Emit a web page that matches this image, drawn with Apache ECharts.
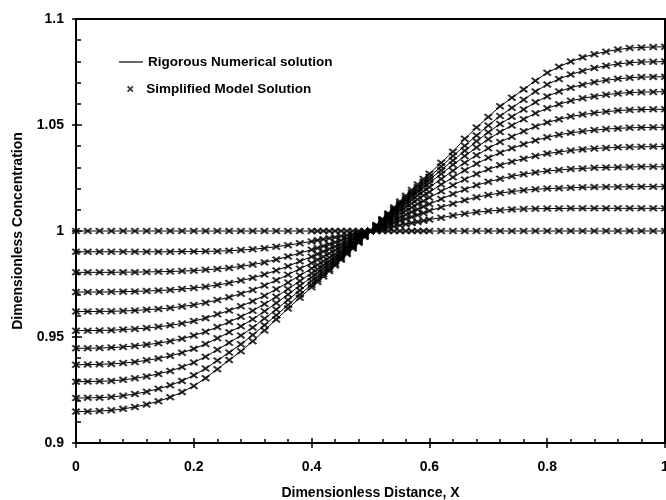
<!DOCTYPE html>
<html><head><meta charset="utf-8">
<script src="https://cdn.jsdelivr.net/npm/echarts@6/dist/echarts.min.js"></script>
<style>html,body{margin:0;padding:0;background:#fff}#c{width:666px;height:500px}</style>
</head><body><div id="c"></div>
<script>
// x positions of the computed points (dense near the centre)
const xs = [0,0.02,0.04,0.06,0.08,0.1,0.12,0.14,0.16,0.18,0.2,0.22,0.24,0.26,0.28,0.3,0.32,0.34,0.36,0.38,
  0.4,0.41,0.42,0.43,0.44,0.45,0.46,0.47,0.48,0.49,0.5,0.51,0.52,0.53,0.54,0.55,0.56,0.57,0.58,0.59,0.6,
  0.62,0.64,0.66,0.68,0.7,0.72,0.74,0.76,0.78,0.8,0.82,0.84,0.86,0.88,0.9,0.92,0.94,0.96,0.98,1];

const c0 = [1,1,1,1,1,1,1,1,1,1,1,1,1,1,1,1,1,1,1,1,1,1,1,1,1,1,1,1,1,1,1,1,1,1,1,1,1,1,1,1,1,1,1,1,1,1,1,1,1,1,1,1,1,1,1,1,1,1,1,1,1];
const c1 = [0.9902,0.9902,0.9902,0.9902,0.9902,0.9902,0.9902,0.9902,0.9902,0.9903,0.9903,0.9904,0.9905,0.9907,0.991,0.9914,0.9919,0.9926,0.9933,0.9942,0.9951,0.9956,0.9961,0.9966,0.9971,0.9976,0.998,0.9985,0.999,0.9995,1,1.0005,1.0011,1.0016,1.0021,1.0027,1.0032,1.0038,1.0043,1.0048,1.0054,1.0063,1.0073,1.0081,1.0089,1.0094,1.0098,1.0102,1.0104,1.0105,1.0106,1.0106,1.0107,1.0107,1.0107,1.0107,1.0107,1.0107,1.0107,1.0107,1.0107];
const c2 = [0.9805,0.9805,0.9805,0.9805,0.9806,0.9806,0.9807,0.9808,0.9809,0.9811,0.9813,0.9817,0.9821,0.9826,0.9833,0.9842,0.9852,0.9865,0.988,0.9896,0.9912,0.992,0.9929,0.9938,0.9947,0.9956,0.9965,0.9973,0.9982,0.9991,1,1.001,1.0019,1.0029,1.0038,1.0048,1.0057,1.0066,1.0076,1.0085,1.0095,1.0112,1.0129,1.0145,1.0159,1.017,1.0179,1.0186,1.0192,1.0197,1.02,1.0202,1.0204,1.0206,1.0207,1.0208,1.0208,1.0209,1.0209,1.0209,1.0209];
const c3 = [0.9712,0.9712,0.9712,0.9713,0.9714,0.9715,0.9717,0.9719,0.9722,0.9726,0.9731,0.9737,0.9745,0.9755,0.9766,0.9779,0.9795,0.9814,0.9834,0.9857,0.9879,0.9891,0.9903,0.9915,0.9927,0.9939,0.9951,0.9963,0.9976,0.9988,1,1.0013,1.0026,1.0039,1.0051,1.0064,1.0077,1.009,1.0102,1.0115,1.0127,1.0151,1.0174,1.0196,1.0216,1.0232,1.0246,1.0258,1.0268,1.0276,1.0283,1.0288,1.0292,1.0295,1.0298,1.03,1.0301,1.0302,1.0303,1.0303,1.0303];
const c4 = [0.962,0.962,0.9621,0.9621,0.9623,0.9625,0.9629,0.9632,0.9637,0.9644,0.9651,0.9662,0.9674,0.9688,0.9704,0.9722,0.9743,0.9768,0.9794,0.9822,0.9849,0.9864,0.9879,0.9894,0.9909,0.9924,0.9939,0.9954,0.997,0.9985,1,1.0016,1.0032,1.0048,1.0064,1.008,1.0096,1.0111,1.0127,1.0142,1.0158,1.0187,1.0216,1.0243,1.0269,1.0291,1.031,1.0327,1.0341,1.0354,1.0365,1.0373,1.038,1.0385,1.0389,1.0392,1.0395,1.0396,1.0397,1.0398,1.0398];
const c5 = [0.953,0.953,0.9531,0.9532,0.9535,0.9538,0.9542,0.9548,0.9555,0.9564,0.9575,0.9589,0.9607,0.9625,0.9645,0.9669,0.9695,0.9725,0.9757,0.979,0.9823,0.984,0.9857,0.9875,0.9892,0.991,0.9928,0.9946,0.9964,0.9982,1,1.0019,1.0037,1.0056,1.0075,1.0094,1.0112,1.013,1.0149,1.0167,1.0184,1.0219,1.0253,1.0286,1.0317,1.0345,1.0369,1.039,1.0409,1.0427,1.0442,1.0454,1.0463,1.047,1.0476,1.0481,1.0484,1.0487,1.0488,1.0489,1.0489];
const c6 = [0.9447,0.9447,0.9448,0.945,0.9453,0.9458,0.9464,0.9471,0.948,0.9492,0.9507,0.9525,0.9547,0.9571,0.9596,0.9624,0.9656,0.969,0.9726,0.9764,0.9801,0.982,0.9839,0.9859,0.9879,0.9899,0.9919,0.9939,0.9959,0.998,1,1.0021,1.0042,1.0063,1.0084,1.0105,1.0126,1.0147,1.0167,1.0187,1.0207,1.0245,1.0284,1.0322,1.0357,1.039,1.042,1.0445,1.047,1.0493,1.0512,1.0527,1.054,1.0549,1.0557,1.0563,1.0568,1.0571,1.0573,1.0574,1.0574];
const c7 = [0.9369,0.937,0.9371,0.9373,0.9377,0.9382,0.939,0.9399,0.9411,0.9426,0.9444,0.9467,0.9494,0.9522,0.9551,0.9584,0.9621,0.966,0.97,0.9742,0.9782,0.9803,0.9824,0.9845,0.9867,0.9889,0.9911,0.9933,0.9956,0.9978,1,1.0023,1.0046,1.0069,1.0093,1.0116,1.0138,1.0161,1.0183,1.0205,1.0227,1.0269,1.0312,1.0354,1.0394,1.0433,1.0467,1.0498,1.0527,1.0555,1.0579,1.0598,1.0614,1.0626,1.0635,1.0643,1.0649,1.0653,1.0655,1.0656,1.0657];
const c8 = [0.9289,0.929,0.9291,0.9293,0.9298,0.9305,0.9314,0.9326,0.934,0.9358,0.938,0.9407,0.944,0.9473,0.9507,0.9545,0.9587,0.963,0.9675,0.972,0.9764,0.9786,0.9809,0.9832,0.9856,0.9879,0.9903,0.9928,0.9952,0.9976,1,1.0025,1.005,1.0074,1.0099,1.0124,1.0148,1.0172,1.0195,1.0219,1.0242,1.0287,1.0333,1.0378,1.0423,1.0466,1.0505,1.0539,1.0573,1.0607,1.0635,1.0658,1.0676,1.069,1.0702,1.0711,1.0718,1.0723,1.0726,1.0727,1.0728];
const c9 = [0.9212,0.9213,0.9214,0.9217,0.9223,0.9231,0.9242,0.9256,0.9272,0.9293,0.9319,0.9351,0.9389,0.9427,0.9466,0.9509,0.9556,0.9603,0.9651,0.97,0.9747,0.9771,0.9796,0.982,0.9845,0.987,0.9896,0.9922,0.9948,0.9974,1,1.0026,1.0053,1.0079,1.0105,1.0131,1.0157,1.0182,1.0207,1.0232,1.0256,1.0304,1.0354,1.0402,1.0451,1.0498,1.0542,1.0581,1.0619,1.0658,1.0691,1.0717,1.0738,1.0755,1.0769,1.0779,1.0788,1.0794,1.0797,1.0798,1.0799];
const c10 = [0.9148,0.9149,0.9151,0.9154,0.9161,0.917,0.9182,0.9197,0.9216,0.924,0.9269,0.9306,0.9348,0.9391,0.9433,0.948,0.9531,0.9583,0.9634,0.9685,0.9735,0.976,0.9785,0.9811,0.9837,0.9864,0.9891,0.9918,0.9945,0.9973,1,1.0028,1.0056,1.0083,1.0111,1.0139,1.0166,1.0193,1.0219,1.0245,1.027,1.0322,1.0374,1.0435,1.0488,1.0538,1.0588,1.0628,1.0668,1.0709,1.0746,1.0775,1.0799,1.0819,1.0834,1.0846,1.0856,1.0863,1.0866,1.0868,1.0869];

const curves = [c0,c1,c2,c3,c4,c5,c6,c7,c8,c9,c10];
const lineName = 'Rigorous Numerical solution';
const markName = 'Simplified Model Solution';
const xName = 'Dimensionless Distance, X';
const yName = 'Dimensionless Concentration';

const FONT = '"Liberation Sans", Arial, Helvetica, sans-serif';
const crossPath = 'path://M0,1.8L1.8,0L5,3.2L8.2,0L10,1.8L6.8,5L10,8.2L8.2,10L5,6.8L1.8,10L0,8.2L3.2,5Z';

const series = [];
curves.forEach(function (c) {
  const data = xs.map(function (x, i) { return [x, c[i]]; });
  series.push({ name: lineName, type: 'line', data: data, symbol: 'none', showSymbol: false,
    lineStyle: { color: '#000', width: 1 }, itemStyle: { color: '#000' }, silent: true, z: 2 });
  series.push({ name: markName, type: 'scatter', data: data, symbol: crossPath, symbolSize: [9, 7],
    itemStyle: { color: '#000' }, silent: true, z: 3 });
});

const labelStyle = { fontFamily: FONT, fontWeight: 'bold', fontSize: 14, color: '#000' };
const legendText = { fontFamily: FONT, fontWeight: 'bold', fontSize: 13.5, color: '#000' };
const chart = echarts.init(document.getElementById('c'), null, { renderer: 'canvas' });
chart.setOption({
  animation: false,
  backgroundColor: '#fff',
  grid: { left: 76, right: 1, top: 19, bottom: 57, outerBoundsMode: 'none', containLabel: false,
    show: true, borderColor: '#000', borderWidth: 2, backgroundColor: 'transparent' },
  legend: [
    { data: [{ name: lineName, icon: 'rect' }], left: 119, top: 55, padding: 0, itemWidth: 24, itemHeight: 1.2, selectedMode: false,
      itemStyle: { color: '#000' }, textStyle: legendText },
    { data: [{ name: markName, icon: crossPath }], left: 127, top: 82, padding: 0, itemWidth: 8, itemHeight: 6.5, selectedMode: false,
      itemStyle: { color: '#000' },
      textStyle: Object.assign({ padding: [0, 0, 0, 7] }, legendText) }
  ],
  xAxis: [
    { type: 'value', min: 0, max: 1, interval: 0.2, position: 'bottom',
      name: xName, nameLocation: 'middle', nameGap: 43,
      nameTextStyle: { fontFamily: FONT, fontWeight: 'bold', fontSize: 14, color: '#000' },
      axisLine: { show: true, lineStyle: { color: '#000', width: 2 } },
      axisTick: { show: true, inside: true, length: 5, lineStyle: { color: '#000', width: 1.5 } },
      minorTick: { show: true, splitNumber: 5, length: 4, lineStyle: { color: '#000', width: 1.5 } },
      axisLabel: Object.assign({ margin: 17 }, labelStyle),
      splitLine: { show: false } },
    { type: 'value', min: 0, max: 1, interval: 0.2, position: 'bottom',
      axisLine: { show: false }, axisLabel: { show: false }, splitLine: { show: false },
      axisTick: { show: true, inside: false, length: 5, lineStyle: { color: '#000', width: 1.5 } } }
  ],
  yAxis: [
    { type: 'value', min: 0.9, max: 1.1, interval: 0.05, position: 'left',
      name: yName, nameLocation: 'middle', nameGap: 51, nameRotate: 90,
      nameTextStyle: { fontFamily: FONT, fontWeight: 'bold', fontSize: 14, color: '#000' },
      axisLine: { show: true, lineStyle: { color: '#000', width: 2 } },
      axisTick: { show: true, inside: true, length: 6, lineStyle: { color: '#000', width: 1.5 } },
      minorTick: { show: true, splitNumber: 5, length: 5, lineStyle: { color: '#000', width: 1.5 } },
      axisLabel: Object.assign({ margin: 12 }, labelStyle),
      splitLine: { show: false } },
    { type: 'value', min: 0.9, max: 1.1, interval: 0.05, position: 'left',
      axisLine: { show: false }, axisLabel: { show: false }, splitLine: { show: false },
      axisTick: { show: true, inside: false, length: 4, lineStyle: { color: '#000', width: 1.5 } } }
  ],
  series: series
});
</script></body></html>
